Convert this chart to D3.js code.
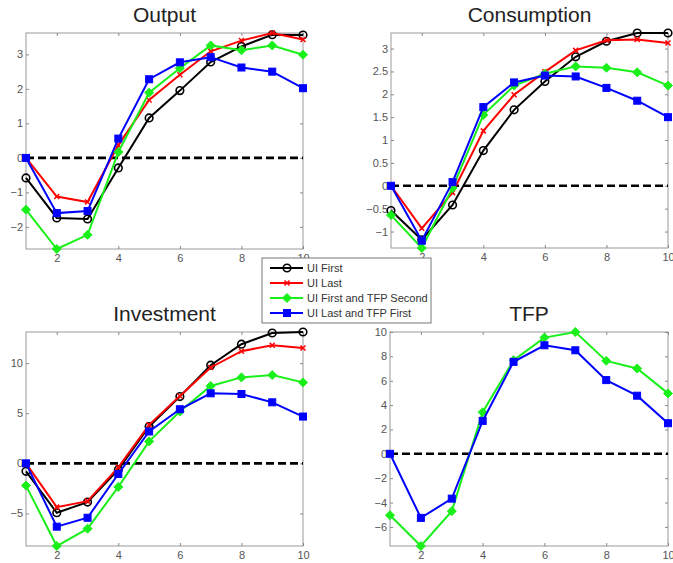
<!DOCTYPE html>
<html>
<head>
<meta charset="utf-8">
<script src="https://cdn.jsdelivr.net/npm/d3@7"></script>
<style>
  body { margin: 0; background: #fff; }
  svg { display: block; font-family: Arial, "Liberation Sans", sans-serif; }
  .tick text { fill: #555; font-size: 11px; }
  .domain { display: none; }
  .tick line { stroke: #888; }
</style>
</head>
<body>
<svg id="chart" width="673" height="563"></svg>
<script>
// horizon (quarters after the shock)
const periods = [1, 2, 3, 4, 5, 6, 7, 8, 9, 10];

const seriesNames = ["UI First", "UI Last", "UI First and TFP Second", "UI Last and TFP First"];

// Output
const outputUIFirst     = [-0.58, -1.74, -1.77, -0.29, 1.16, 1.95, 2.78, 3.23, 3.57, 3.56];
const outputUILast      = [0, -1.12, -1.28, 0.37, 1.68, 2.41, 3.09, 3.40, 3.62, 3.43];
const outputUIFirstTFP2 = [-1.50, -2.64, -2.23, 0.17, 1.89, 2.60, 3.26, 3.12, 3.26, 2.99];
const outputUILastTFP1  = [0, -1.60, -1.54, 0.56, 2.28, 2.77, 2.92, 2.62, 2.50, 2.02];

// Consumption
const consUIFirst     = [-0.54, -1.18, -0.42, 0.77, 1.66, 2.28, 2.82, 3.16, 3.34, 3.34];
const consUILast      = [0, -0.93, -0.15, 1.20, 1.99, 2.49, 2.96, 3.18, 3.20, 3.12];
const consUIFirstTFP2 = [-0.64, -1.36, -0.05, 1.55, 2.19, 2.45, 2.61, 2.58, 2.48, 2.19];
const consUILastTFP1  = [0, -1.20, 0.08, 1.72, 2.26, 2.41, 2.39, 2.14, 1.86, 1.50];

// Investment
const invUIFirst     = [-0.8, -4.93, -3.87, -0.63, 3.68, 6.66, 9.80, 11.89, 13.01, 13.11];
const invUILast      = [0, -4.37, -3.77, -0.40, 3.84, 6.72, 9.57, 11.19, 11.79, 11.52];
const invUIFirstTFP2 = [-2.22, -8.25, -6.52, -2.35, 2.19, 5.17, 7.72, 8.58, 8.81, 8.08];
const invUILastTFP1  = [0, -6.32, -5.43, -1.06, 3.18, 5.40, 6.99, 6.92, 6.09, 4.67];

// TFP (only the two TFP scenarios)
const tfpUIFirstTFP2 = [-5.04, -7.57, -4.71, 3.41, 7.68, 9.54, 10.0, 7.63, 7.0, 4.96];
const tfpUILastTFP1  = [0, -5.26, -3.68, 2.70, 7.55, 8.91, 8.50, 6.05, 4.77, 2.51];

const xTicks = [2, 4, 6, 8, 10];
const outputTicks = [-2, -1, 0, 1, 2, 3];
const consTicks = [-1, -0.5, 0, 0.5, 1, 1.5, 2, 2.5, 3];
const invTicks = [-5, 0, 5, 10];
const tfpTicks = [-6, -4, -2, 0, 2, 4, 6, 8, 10];

// styles per scenario
const styles = [
  { color: "#000000", marker: "circle" },
  { color: "#ff0000", marker: "times" },
  { color: "#19f019", marker: "diamond" },
  { color: "#0000ff", marker: "square" }
];

const panels = [
  { title: "Output", box: { x0: 26, x1: 303, y0: 33, y1: 249 }, ticks: outputTicks,
    series: [outputUIFirst, outputUILast, outputUIFirstTFP2, outputUILastTFP1] },
  { title: "Consumption", box: { x0: 391, x1: 668, y0: 33, y1: 248 }, ticks: consTicks,
    series: [consUIFirst, consUILast, consUIFirstTFP2, consUILastTFP1] },
  { title: "Investment", box: { x0: 26, x1: 303, y0: 332, y1: 546 }, ticks: invTicks,
    series: [invUIFirst, invUILast, invUIFirstTFP2, invUILastTFP1] },
  { title: "TFP", box: { x0: 390, x1: 668, y0: 332, y1: 546 }, ticks: tfpTicks,
    series: [null, null, tfpUIFirstTFP2, tfpUILastTFP1] }
];

const svg = d3.select("#chart");

function drawMarker(g, type, color) {
  if (type === "circle") {
    g.append("circle").attr("r", 3.8).attr("fill", "none")
      .attr("stroke", color).attr("stroke-width", 1.6);
  } else if (type === "times") {
    g.append("path").attr("d", "M-2.5,-2.5L2.5,2.5M-2.5,2.5L2.5,-2.5")
      .attr("stroke", color).attr("stroke-width", 1.5);
  } else if (type === "diamond") {
    g.append("path").attr("d", "M0,-4.5L4.5,0L0,4.5L-4.5,0Z")
      .attr("fill", color).attr("stroke", color).attr("stroke-width", 1);
  } else {
    g.append("rect").attr("x", -3.5).attr("y", -3.5).attr("width", 7).attr("height", 7)
      .attr("fill", color).attr("stroke", color).attr("stroke-width", 1);
  }
}

panels.forEach(p => {
  const b = p.box;
  const values = p.series.filter(s => s).flat();
  const x = d3.scaleLinear().domain([1, 10]).range([b.x0, b.x1]);
  const y = d3.scaleLinear().domain(d3.extent(values)).range([b.y1, b.y0]);

  const g = svg.append("g");

  g.append("rect")
    .attr("x", b.x0).attr("y", b.y0)
    .attr("width", b.x1 - b.x0).attr("height", b.y1 - b.y0)
    .attr("fill", "#fff").attr("stroke", "#999").attr("stroke-width", 1);

  // axes with inward ticks, MATLAB style box
  g.append("g").attr("transform", `translate(0,${b.y1})`)
    .call(d3.axisBottom(x).tickValues(xTicks).tickSizeInner(-3).tickSizeOuter(0).tickPadding(5));
  g.append("g").attr("transform", `translate(0,${b.y0})`)
    .call(d3.axisTop(x).tickValues(xTicks).tickSizeInner(-3).tickSizeOuter(0).tickFormat(""));
  g.append("g").attr("transform", `translate(${b.x0},0)`)
    .call(d3.axisLeft(y).tickValues(p.ticks).tickSizeInner(-3).tickSizeOuter(0).tickPadding(3)
      .tickFormat(d3.format("~g")));
  g.append("g").attr("transform", `translate(${b.x1},0)`)
    .call(d3.axisRight(y).tickValues(p.ticks).tickSizeInner(-3).tickSizeOuter(0).tickFormat(""));

  // zero line
  g.append("line")
    .attr("x1", x(1)).attr("x2", x(10))
    .attr("y1", y(0)).attr("y2", y(0))
    .attr("stroke", "#000").attr("stroke-width", 2.6)
    .attr("stroke-dasharray", "8,4");

  const line = d3.line().x((d, i) => x(periods[i])).y(d => y(d));

  p.series.forEach((s, k) => {
    if (!s) return;
    const st = styles[k];
    g.append("path").datum(s)
      .attr("d", line)
      .attr("fill", "none")
      .attr("stroke", st.color)
      .attr("stroke-width", 2);
    s.forEach((v, i) => {
      const m = g.append("g").attr("transform", `translate(${x(periods[i])},${y(v)})`);
      drawMarker(m, st.marker, st.color);
    });
  });

  g.append("text")
    .attr("x", (b.x0 + b.x1) / 2)
    .attr("y", b.y0 - 11)
    .attr("text-anchor", "middle")
    .attr("font-size", 21)
    .attr("fill", "#222")
    .text(p.title);
});

// legend
const legend = svg.append("g");
legend.append("rect")
  .attr("x", 262).attr("y", 258).attr("width", 169).attr("height", 65)
  .attr("fill", "#fff").attr("stroke", "#777").attr("stroke-width", 1);

seriesNames.forEach((name, k) => {
  const yy = 268 + k * 15;
  const st = styles[k];
  legend.append("line")
    .attr("x1", 270).attr("x2", 303).attr("y1", yy).attr("y2", yy)
    .attr("stroke", st.color).attr("stroke-width", 2);
  const m = legend.append("g").attr("transform", `translate(287,${yy})`);
  drawMarker(m, st.marker, st.color);
  legend.append("text")
    .attr("x", 307).attr("y", yy + 4)
    .attr("font-size", 11)
    .attr("fill", "#333")
    .text(name);
});
</script>
</body>
</html>
